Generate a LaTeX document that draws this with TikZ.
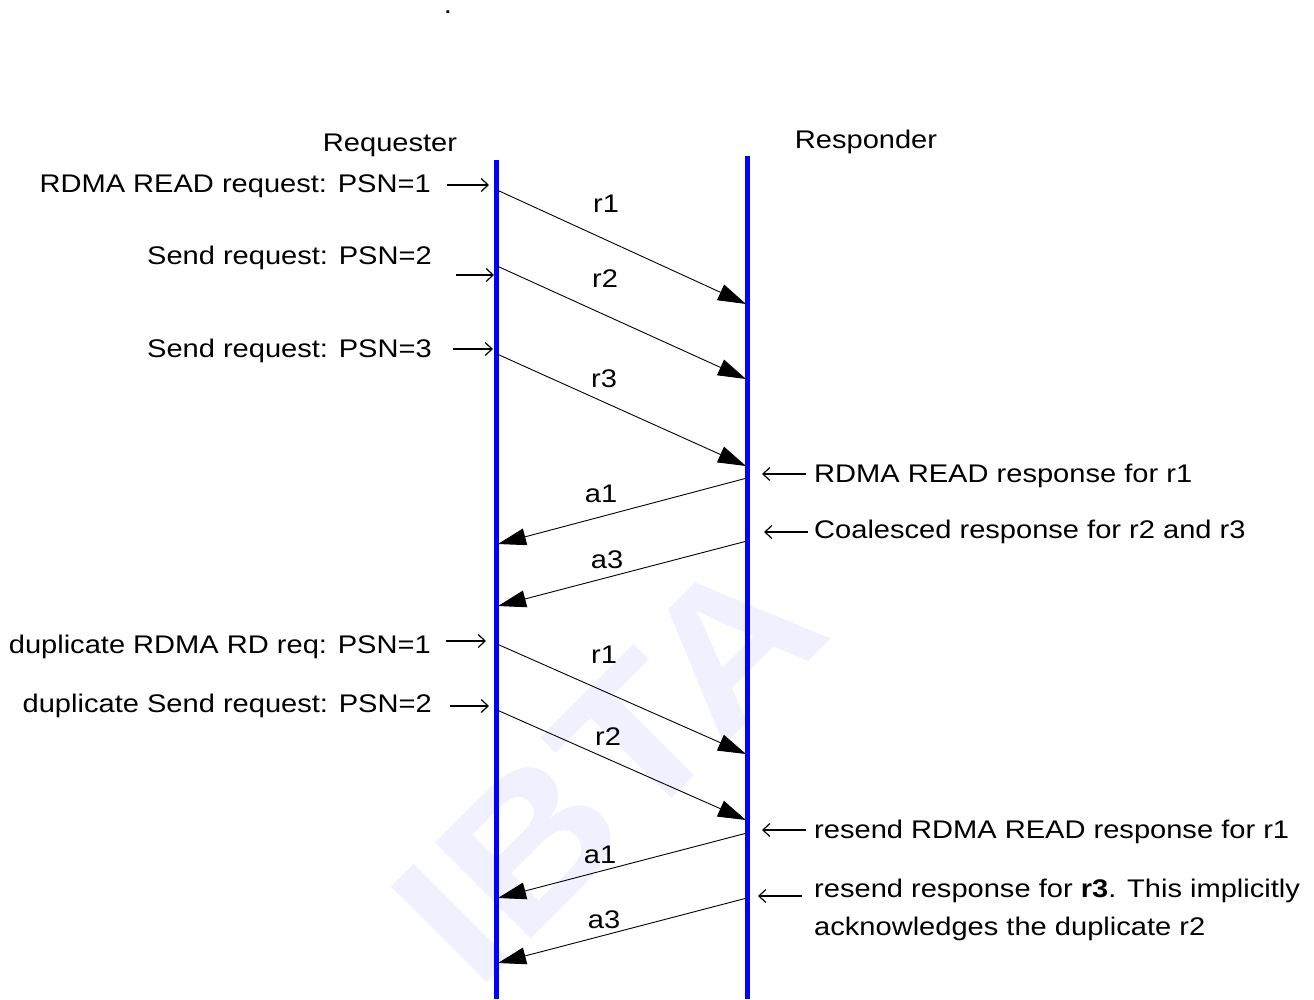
\documentclass[tikz,border=0pt]{standalone}
\usepackage{fontspec}
\setmainfont[FakeStretch=1.14]{Liberation Sans}
\usetikzlibrary{arrows.meta,positioning}

\begin{document}
\begin{tikzpicture}[
  x=1pt, y=-1pt,
  every node/.style={font=\fontsize{25.5}{38}\selectfont, inner sep=0pt},
  life/.style={draw=blue, line width=5pt},
  msg/.style={-{Triangle[length=28pt,width=17pt]}, line width=0.9pt},
  note/.style={-{Straight Barb[length=7pt,width=13pt]}, line width=1.2pt},
  lbl/.style={anchor=base east},
  rlbl/.style={anchor=base west, align=left},
  mlbl/.style={anchor=base},
  wmark/.style={font=\fontsize{197}{197}\bfseries\selectfont, text=blue!6, rotate=45, anchor=base west}
]
\useasboundingbox (0,0) rectangle (1314,999);

% watermark
\node[wmark] (wm) at (476,994) {IBTA};
\node[anchor=base] (dot) at (448,13) {.};

% lifelines
\coordinate (reqtop) at (496,160);
\coordinate (reqbot) at (496,999);
\coordinate (restop) at (747,156);
\coordinate (resbot) at (747,999);
\draw[life] (reqtop) -- (reqbot);
\draw[life] (restop) -- (resbot);
\node[mlbl] (req) at (390,151) {Requester};
\node[mlbl] (res) at (866,148) {Responder};

% messages
\foreach \k/\xa/\ya/\xb/\yb/\t/\lx/\ly in {
  1/497/190/746/304/r1/606/212,
  2/497/266/746/379/r2/605/287,
  3/497/354/746/466/r3/604/387,
  4/747/478/498/544/a1/601/502,
  5/747/541/498/606/a3/607/568,
  6/497/644/746/754/r1/604/663,
  7/497/710/746/820/r2/608/745,
  8/747/833/498/898/a1/600/863,
  9/747/898/498/963/a3/604/928}{
  \coordinate (m\k a) at (\xa,\ya);
  \coordinate (m\k b) at (\xb,\yb);
  \draw[msg] (m\k a) -- (m\k b);
  \node[mlbl] (m\k t) at (\lx,\ly) {\t};
}

% requester notes
\node[lbl] (q1) at (431,192) {RDMA READ request: PSN=1};
\node[lbl] (q2) at (432,264) {Send request: PSN=2};
\node[lbl] (q3) at (432,357) {Send request: PSN=3};
\node[lbl] (q4) at (431,653) {duplicate RDMA RD req: PSN=1};
\node[lbl] (q5) at (432,712) {duplicate Send request: PSN=2};
\coordinate (q1a) at (447,185); \coordinate (q1b) at (489,185);
\coordinate (q2a) at (456,275); \coordinate (q2b) at (494,275);
\coordinate (q3a) at (453,349); \coordinate (q3b) at (493,349);
\coordinate (q4a) at (446,641); \coordinate (q4b) at (486,641);
\coordinate (q5a) at (450,706); \coordinate (q5b) at (489,706);
\foreach \k in {1,...,5}{\draw[note] (q\k a) -- (q\k b);}

% responder notes
\node[rlbl] (p1) at (814,482) {RDMA READ response for r1};
\node[rlbl] (p2) at (814,538) {Coalesced response for r2 and r3};
\node[rlbl] (p3) at (814,838) {resend RDMA READ response for r1};
\node[rlbl] (p4) at (814,935) {resend response for \textbf{r3}. This implicitly\\acknowledges the duplicate r2};
\coordinate (p1a) at (806,474); \coordinate (p1b) at (762,474);
\coordinate (p2a) at (808,532); \coordinate (p2b) at (764,532);
\coordinate (p3a) at (806,830); \coordinate (p3b) at (762,830);
\coordinate (p4a) at (802,896); \coordinate (p4b) at (758,896);
\foreach \k in {1,...,4}{\draw[note] (p\k a) -- (p\k b);}
\end{tikzpicture}
\end{document}
